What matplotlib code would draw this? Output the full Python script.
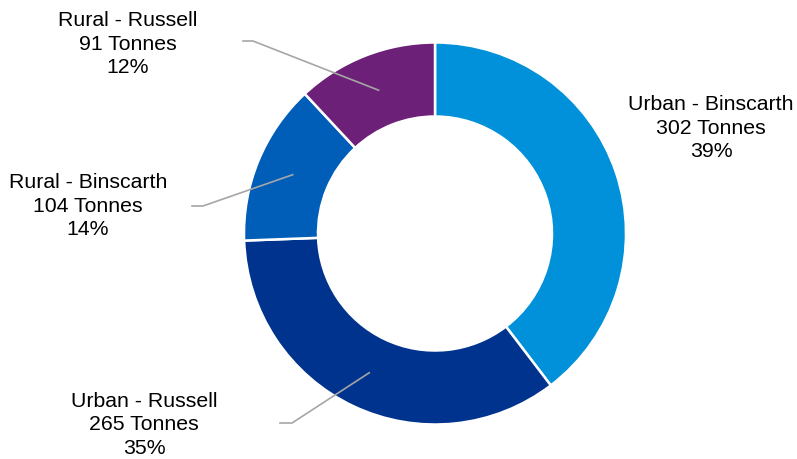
import matplotlib.pyplot as plt
import numpy as np

plt.rcParams['font.family'] = ['Liberation Sans', 'DejaVu Sans']

# data, in drawing order (clockwise from 12 o'clock)
labels = ['Urban - Binscarth', 'Urban - Russell', 'Rural - Binscarth', 'Rural - Russell']
tonnes = [302, 265, 104, 91]
percents = ['39%', '35%', '14%', '12%']
colors = ['#0091DA', '#00338D', '#005EB8', '#6D2077']

# layout (pixel space of a 797x459 figure)
cx, cy = 435, 459 - 233.5
r_out, r_in = 191, 117
text_pos = [(711, 459 - 128), (144, 459 - 425), (88, 459 - 206), (128, 459 - 44)]
# elbow of the leader line: (outer end x, inner knee x, y); None = no line
leaders = [None, (280, 292, 459 - 423), (192, 203, 459 - 206), (243, 253, 459 - 41)]

fig = plt.figure(figsize=(7.97, 4.59), dpi=100)
ax = fig.add_axes([0, 0, 1, 1])

wedges, _ = ax.pie(tonnes, colors=colors, startangle=90, counterclock=False,
                   center=(cx, cy), radius=r_out,
                   wedgeprops=dict(width=r_out - r_in, edgecolor='white', linewidth=1.8))

# pie resets the limits, so set them afterwards
ax.set_xlim(0, 797)
ax.set_ylim(0, 459)
ax.set_aspect('equal')
ax.axis('off')

for i, w in enumerate(wedges):
    txt = '%s\n%d Tonnes\n%s' % (labels[i], tonnes[i], percents[i])
    ax.text(text_pos[i][0], text_pos[i][1], txt, ha='center', va='center',
            fontsize=15.3, linespacing=1.28, color='#000000')
    if leaders[i] is None:
        continue
    mid = np.deg2rad((w.theta1 + w.theta2) / 2)
    rm = (r_out + r_in) / 2
    px, py = cx + rm * np.cos(mid), cy + rm * np.sin(mid)
    x0, x1, y = leaders[i]
    ax.plot([x0, x1, px], [y, y, py], color='#A6A6A6', lw=1.2)

fig.savefig('out.png', dpi=100)
